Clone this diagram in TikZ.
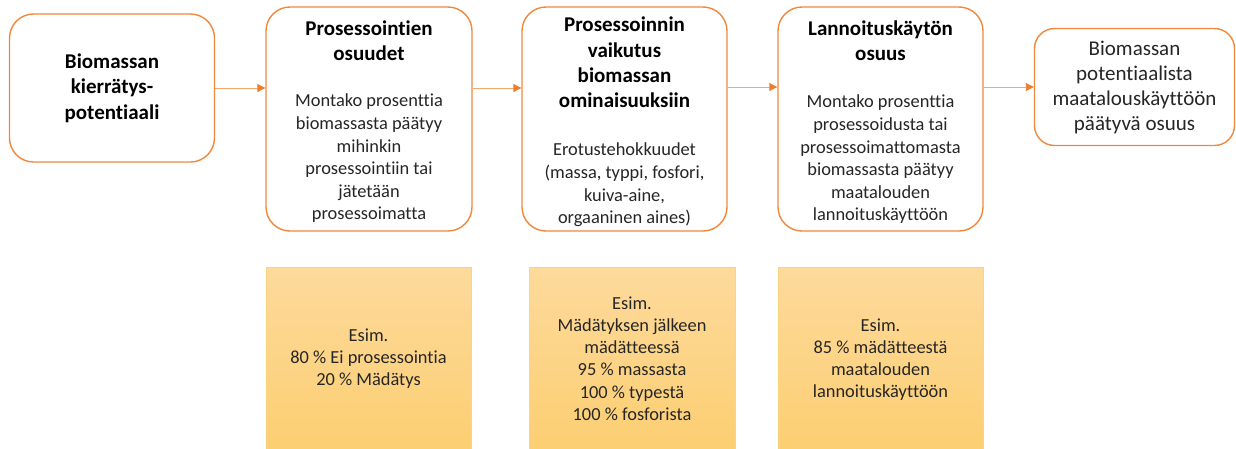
\documentclass[tikz,border=0pt]{standalone}
\usepackage{fontspec}
\setmainfont{Carlito}[Ligatures=NoCommon]
\usetikzlibrary{arrows.meta}
\definecolor{boxor}{HTML}{F0883C}
\definecolor{arrline}{HTML}{F4A870}
\definecolor{arrhead}{HTML}{EE7D31}
\definecolor{ytop}{HTML}{FDDA9C}
\definecolor{ybot}{HTML}{FCCE70}
\definecolor{yedge}{HTML}{FBD57A}
\definecolor{txt}{HTML}{262626}
\tikzset{
  flowbox/.style={draw=boxor, line width=1.4pt, fill=white, rounded corners=24pt, inner sep=0pt},
  ybox/.style={draw=yedge, line width=0.8pt, top color=ytop, bottom color=ybot, inner sep=0pt},
  ttl/.style={align=center, text=black, font=\fontsize{21}{25.3}\selectfont\bfseries, inner sep=0pt},
  bodyt/.style={align=center, text=txt, font=\fontsize{18.4}{22.6}\selectfont, inner sep=0pt},
  endt/.style={align=center, text=txt, font=\fontsize{21}{25}\selectfont, inner sep=0pt},
  arr/.style={draw=arrline, line width=0.9pt, -{Triangle[length=8pt,width=8pt,color=arrhead]}}
}
\begin{document}
\begin{tikzpicture}[x=1pt,y=-1pt]
\useasboundingbox (0,0) rectangle (1236,448);
% main boxes
\node[flowbox, minimum width=205pt, minimum height=148pt] (b1) at (112,88) {};
\node[flowbox, minimum width=206pt, minimum height=224pt] (b2) at (369,119) {};
\node[flowbox, minimum width=205pt, minimum height=224pt] (b3) at (624.5,119) {};
\node[flowbox, minimum width=205pt, minimum height=224pt] (b4) at (880.5,119) {};
\node[flowbox, rounded corners=20pt, minimum width=200pt, minimum height=117pt] (b5) at (1134.5,87) {};
% arrows
\draw[arr] (b1.east) -- (b2.west |- b1.east);
\draw[arr] (b2.east |- b1.east) -- (b3.west |- b1.east);
\draw[arr] (b3.east |- b5.west) -- (b4.west |- b5.west);
\draw[arr] (b4.east |- b5.west) -- (b5.west);
% texts in main boxes
\node[ttl] (t1) at (112,88) {Biomassan\\kierrätys-\\potentiaali};
\node[ttl] (t2) at (369,40.5) {Prosessointien\\osuudet};
\node[bodyt] (d2) at (369,158.5) {Montako prosenttia\\biomassasta päätyy\\mihinkin\\prosessointiin tai\\jätetään\\prosessoimatta};
\node[ttl] (t3) at (624.5,62.5) {Prosessoinnin\\vaikutus\\biomassan\\ominaisuuksiin};
\node[bodyt] (d3) at (624.5,185) {Erotustehokkuudet\\(massa, typpi, fosfori,\\kuiva-aine,\\orgaaninen aines)};
\node[ttl] (t4) at (880.5,40.5) {Lannoituskäytön\\osuus};
\node[bodyt] (d4) at (880.5,159.5) {Montako prosenttia\\prosessoidusta tai\\prosessoimattomasta\\biomassasta päätyy\\maatalouden\\lannoituskäyttöön};
\node[endt] (t5) at (1134.5,87.5) {Biomassan\\potentiaalista\\maatalouskäyttöön\\päätyvä osuus};
% yellow example boxes
\node[ybox, minimum width=205pt, minimum height=190pt] (y1) at (368.5,362) {};
\node[ybox, minimum width=206pt, minimum height=190pt] (y2) at (632,362) {};
\node[ybox, minimum width=205pt, minimum height=190pt] (y3) at (880.5,362) {};
\node[bodyt, font=\fontsize{18.4}{22}\selectfont] (e1) at (368.5,359) {Esim.\\80 \% Ei prosessointia\\20 \% Mädätys};
\node[bodyt, font=\fontsize{18.4}{22.2}\selectfont] (e2) at (632,358.5) {Esim.\\Mädätyksen jälkeen\\mädätteessä\\95 \% massasta\\100 \% typestä\\100 \% fosforista};
\node[bodyt, font=\fontsize{18.4}{22}\selectfont] (e3) at (880.5,360) {Esim.\\85 \% mädätteestä\\maatalouden\\lannoituskäyttöön};
\end{tikzpicture}
\end{document}
